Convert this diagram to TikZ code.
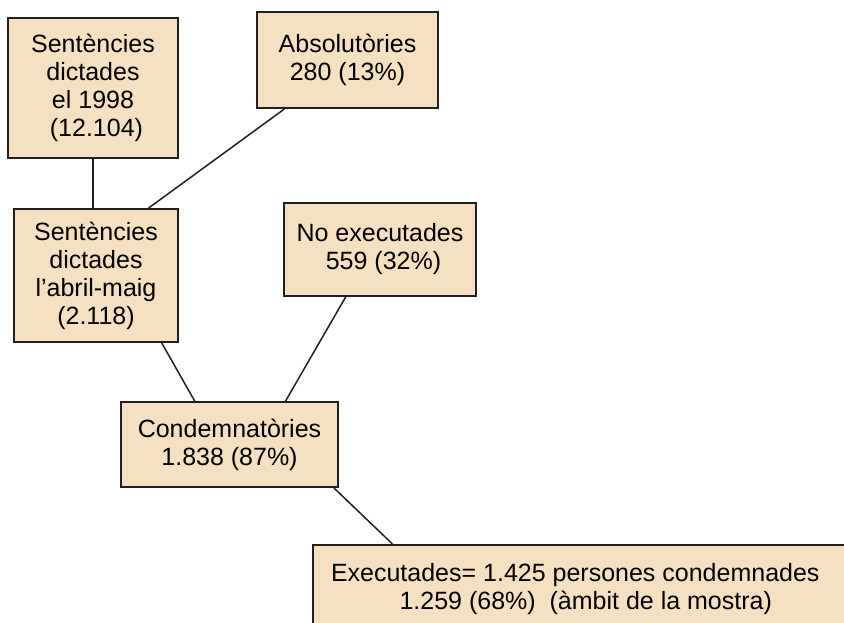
\documentclass[tikz,border=0pt]{standalone}
\usepackage{fontspec}
\setmainfont{Liberation Sans}
\usetikzlibrary{calc}
\definecolor{boxfill}{RGB}{245,224,194}
\definecolor{boxline}{RGB}{35,31,32}

\begin{document}
\begin{tikzpicture}[x=1pt,y=1pt,yscale=-1,
  caixa/.style={draw=boxline,fill=boxfill,line width=2pt,inner sep=0pt,align=center,
    font=\fontsize{25}{28}\selectfont},
  enllac/.style={draw=boxline,line width=1.5pt}]
\useasboundingbox (0,0) rectangle (844,622);
\clip (0,0) rectangle (844,622);

% Boxes
\node (dict98) [caixa,minimum width=170,minimum height=140] at (93,88) {Sentències\\dictades\\el 1998~\\~(12.104)};
\node (absol) [caixa,minimum width=181,minimum height=96] at (347.5,60) {Absolutòries\\280 (13\%)};
\node (abril) [caixa,minimum width=164,minimum height=133] at (96,275.5) {Sentències\\dictades\\l’abril-maig\\(2.118)};
\node (noexec) [caixa,minimum width=192,minimum height=93] at (380,249.5) {No executades\\~559 (32\%)};
\node (conde) [caixa,minimum width=217,minimum height=85] at (229.5,444.5) {Condemnatòries\\1.838 (87\%)};
% box runs out of the picture at right and bottom
\node (exec) [caixa,anchor=north west,inner xsep=18pt,inner ysep=18.5pt,text depth=60pt] at (312,544)
  {Executades= 1.425 persones condemnades\hspace*{40pt}\\1.259 (68\%)~~(àmbit de la mostra)\hspace*{19pt}};

% Links
\draw [enllac] (dict98.south) -- (dict98.south |- abril.north);
\draw [enllac] ($(absol.south west)!0.155!(absol.south east)$) -- ($(abril.north west)!0.817!(abril.north east)$);
\draw [enllac] ($(abril.south west)!0.896!(abril.south east)$) -- ($(conde.north west)!0.341!(conde.north east)$);
\draw [enllac] ($(noexec.south west)!0.323!(noexec.south east)$) -- ($(conde.north west)!0.756!(conde.north east)$);
\draw [enllac] ($(conde.south west)!0.977!(conde.south east)$) -- ($(exec.north west)!0.142!(exec.north east)$);

\end{tikzpicture}
\end{document}
